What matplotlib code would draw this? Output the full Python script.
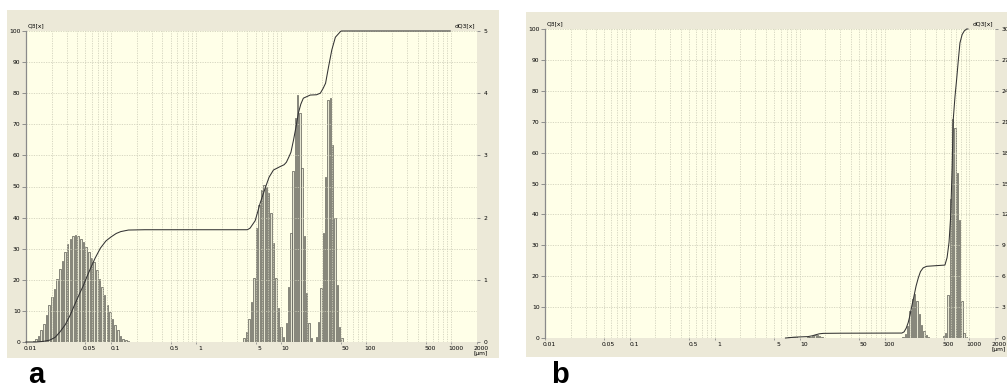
import matplotlib
matplotlib.use("Agg")
import matplotlib.pyplot as plt
import numpy as np
from matplotlib.patches import Rectangle
from matplotlib.ticker import FixedLocator, LogLocator, NullFormatter
from matplotlib.transforms import ScaledTranslation

# ---- data: panel a (dQ3 bars in right-axis units, Q3 curve in %) ----
a_sizes_1 = [0.0122, 0.0131, 0.01408, 0.01512, 0.01624, 0.01744, 0.01873, 0.02012, 0.02161,
             0.02321, 0.02493, 0.02678, 0.02876, 0.0309, 0.03318, 0.03564, 0.03828, 0.04112,
             0.04417, 0.04744, 0.05096, 0.05473, 0.05879, 0.06315, 0.06783, 0.07285, 0.07825,
             0.08405, 0.09028, 0.09697, 0.1042, 0.1119, 0.1202, 0.1291, 0.1386, 0.1489, 0.1599]
a_dq3_1 = [0.015, 0.05, 0.10, 0.185, 0.295, 0.43, 0.59, 0.725, 0.85, 1.02, 1.18, 1.30, 1.45,
           1.58, 1.65, 1.70, 1.715, 1.70, 1.65, 1.60, 1.525, 1.45, 1.35, 1.285, 1.15, 1.02,
           0.885, 0.75, 0.59, 0.48, 0.375, 0.27, 0.185, 0.10, 0.05, 0.025, 0.01]
a_sizes_2 = [3.67, 3.92, 4.19, 4.48, 4.79, 5.11, 5.46, 5.84, 6.24, 6.67, 7.12, 7.61, 8.13,
             8.69, 9.29, 9.92, 10.6]
a_dq3_2 = [0.065, 0.165, 0.37, 0.65, 1.03, 1.83, 2.2, 2.445, 2.525, 2.5, 2.39, 2.075, 1.59,
           1.03, 0.545, 0.245, 0.08]
a_sizes_3 = [11.5, 12.2, 13.0, 13.8, 14.7, 15.6, 16.6, 17.6, 18.7, 19.9, 21.2, 22.5]
a_dq3_3 = [0.30, 0.885, 1.75, 2.75, 3.6, 3.97, 3.68, 2.8, 1.7, 0.79, 0.30, 0.065]
a_sizes_4 = [25.8, 27.5, 29.3, 31.2, 33.2, 35.4, 37.7, 40.2, 42.8, 45.6, 48.6, 51.8]
a_dq3_4 = [0.08, 0.325, 0.87, 1.75, 2.65, 3.89, 3.925, 3.165, 2.0, 0.915, 0.245, 0.065]

a_curve_x = [0.01, 0.013, 0.016, 0.019, 0.022, 0.025, 0.029, 0.033, 0.038, 0.043, 0.047,
             0.052, 0.058, 0.065, 0.075, 0.087, 0.1, 0.115, 0.13, 0.16, 0.25, 4.0, 4.3, 4.94,
             5.66, 6.48, 7.2, 8.1, 9.7, 10.8, 11.5, 12.3, 13.0, 13.96, 15.0, 15.9, 17.0, 18.2,
             21.9, 26.0, 28.8, 31.0, 33.2, 36.0, 39.3, 43.3, 49.6, 51.0, 970]
a_curve_q3 = [0, 0, 0.2, 0.6, 1.5, 3.2, 5.6, 8.6, 12.5, 15.8, 18.0, 21.0, 24.0, 27.0, 30.2,
              32.5, 33.8, 34.9, 35.5, 36.0, 36.1, 36.1, 36.6, 39.0, 44.7, 49.5, 53.0, 55.3,
              56.4, 57.0, 57.8, 59.5, 61.0, 65.0, 69.5, 73.6, 76.5, 78.4, 79.4, 79.5, 80.0,
              81.5, 83.2, 88.5, 93.9, 98.0, 99.8, 100, 100]

# ---- data: panel b ----
b_sizes_1 = [7.0, 7.5, 8.0, 8.5, 9.1, 9.7]
b_dq3_1 = [0.03, 0.05, 0.08, 0.08, 0.05, 0.03]
b_sizes_2 = [12.5, 13.3, 14.2, 15.1, 16.1, 17.2, 18.3]
b_dq3_2 = [0.05, 0.12, 0.22, 0.28, 0.25, 0.15, 0.06]
b_sizes_3 = [165, 176, 187, 199, 212, 226, 241, 256, 273, 291, 310, 330]
b_dq3_3 = [0.1, 0.4, 1.2, 2.6, 3.8, 4.3, 3.6, 2.3, 1.3, 0.65, 0.3, 0.1]
b_sizes_4 = [494, 526, 560, 596, 634, 675, 718, 764, 813, 865, 920]
b_dq3_4 = [0.15, 0.5, 4.2, 13.5, 21.3, 20.4, 16.0, 11.5, 3.6, 0.5, 0.1]

b_curve_x = [6.8, 7.5, 8.5, 10, 12.5, 14, 15.5, 17, 19, 30, 160, 170, 180, 190, 200,
             210, 220, 235, 250, 265, 285, 313, 400, 514, 545, 575, 601, 625, 644, 675, 706,
             740, 773, 820, 870, 927, 960]
b_curve_q3 = [0, 0.1, 0.25, 0.35, 0.45, 0.7, 1.05, 1.35, 1.5, 1.55, 1.6, 2.0, 3.2, 5.0,
              7.5, 10.5, 13.0, 16.8, 19.5, 21.5, 22.7, 23.2, 23.4, 23.6, 26.0, 31.0, 39.4,
              55.0, 70.6, 78.0, 83.6, 90.0, 95.5, 98.2, 99.4, 100, 100]

x_ticks = [0.01, 0.05, 0.1, 0.5, 1, 5, 10, 50, 100, 500, 1000, 2000]
x_tick_labels = ["0.01", "0.05", "0.1", "0.5", "1", "5", "10", "50", "100", "500", "1000",
                 "2000\n[µm]"]
left_ticks = list(range(0, 101, 10))
a_right_ticks = [0, 1, 2, 3, 4, 5]
b_right_ticks = [0, 3, 6, 9, 12, 15, 18, 21, 24, 27, 30]

W, H = 1007, 388
BEIGE = "#ECE9D8"
PLOT_BG = "#FFFFE8"
GRID = "#CDCDB8"
TICK_FS = 4.3


def box(x0, y0, x1, y1):
    return [x0 / W, 1 - y1 / H, (x1 - x0) / W, (y1 - y0) / H]


def draw_bars(ax, sizes, heights):
    s = np.asarray(sizes, dtype=float)
    step = np.exp(np.mean(np.diff(np.log(s))))
    half = step ** 0.3
    left = s / half
    ax.bar(left, heights, width=s * half - left, align="edge",
           facecolor="#E6E6D2", edgecolor="#4A4A44", linewidth=0.45, zorder=2)


def draw_panel(fig, rect, groups, cx, cy, right_max, right_ticks):
    ax = fig.add_axes(box(*rect))
    ax2 = ax.twinx()
    ax.set_zorder(ax2.get_zorder() + 1)
    ax.patch.set_visible(False)
    ax2.patch.set_visible(True)
    ax2.patch.set_facecolor(PLOT_BG)

    ax.set_xscale("log")
    ax.set_xlim(0.01, 2000)
    ax.set_ylim(0, 100)
    ax2.set_ylim(0, right_max)

    for sizes, heights in groups:
        draw_bars(ax2, sizes, heights)

    ax.plot(cx, cy, color="#333333", linewidth=0.75, clip_on=False, zorder=3)

    ax.xaxis.set_major_locator(FixedLocator(x_ticks))
    ax.set_xticklabels(x_tick_labels, linespacing=0.9)
    ax.xaxis.set_minor_locator(LogLocator(base=10, subs=np.arange(2, 10)))
    ax.xaxis.set_minor_formatter(NullFormatter())
    ax.set_yticks(left_ticks)
    ax2.set_yticks(right_ticks)

    dash = (0, (1.6, 1.6))
    ax.grid(which="both", axis="x", color=GRID, linestyle=dash, linewidth=0.55)
    ax.grid(which="major", axis="y", color=GRID, linestyle=dash, linewidth=0.55)

    for a in (ax, ax2):
        for side in ("top", "right", "bottom", "left"):
            a.spines[side].set_visible(False)
    ax.spines["left"].set_visible(True)
    ax.spines["left"].set_color("#8A8A8A")
    ax.spines["left"].set_linewidth(0.9)

    ax.tick_params(axis="y", length=3, width=0.6, color="#808080", labelsize=TICK_FS, pad=1)
    ax.tick_params(axis="x", which="major", length=1.5, width=0.5, color="#808080",
                   labelsize=TICK_FS, pad=1.5)
    ax.tick_params(axis="x", which="minor", length=0)
    ax2.tick_params(axis="y", length=2, width=0.6, color="#808080", labelsize=TICK_FS, pad=2.5)

    offset = ScaledTranslation(3 / 72, 0, fig.dpi_scale_trans)
    for lab in ax.get_xticklabels():
        lab.set_transform(lab.get_transform() + offset)
        lab.set_verticalalignment("top")

    ax.text(0.004, 1.008, "Q3[x]", transform=ax.transAxes, fontsize=TICK_FS,
            ha="left", va="bottom")
    ax.text(0.996, 1.008, "dQ3[x]", transform=ax.transAxes, fontsize=TICK_FS,
            ha="right", va="bottom")
    return ax


fig = plt.figure(figsize=(W / 100, H / 100), dpi=100)
fig.patch.set_facecolor("white")

# beige window panels
fig.add_artist(Rectangle((7 / W, 1 - 358 / H), (499 - 7) / W, (358 - 10) / H,
                         transform=fig.transFigure, facecolor=BEIGE, edgecolor="none",
                         zorder=-10))
fig.add_artist(Rectangle((526 / W, 1 - 357 / H), (W - 526) / W, (357 - 12) / H,
                         transform=fig.transFigure, facecolor=BEIGE, edgecolor="none",
                         zorder=-10))

draw_panel(fig, (26, 31, 477, 342),
           [(a_sizes_1, a_dq3_1), (a_sizes_2, a_dq3_2), (a_sizes_3, a_dq3_3),
            (a_sizes_4, a_dq3_4)],
           a_curve_x, a_curve_q3, 5, a_right_ticks)
draw_panel(fig, (545, 29, 995, 338),
           [(b_sizes_1, b_dq3_1), (b_sizes_2, b_dq3_2), (b_sizes_3, b_dq3_3),
            (b_sizes_4, b_dq3_4)],
           b_curve_x, b_curve_q3, 30, b_right_ticks)

fig.text(28 / W, 1 - 383 / H, "a", fontsize=21, fontweight="bold",
         family="Liberation Sans", va="baseline", ha="left")
fig.text(551 / W, 1 - 383 / H, "b", fontsize=21, fontweight="bold",
         family="Liberation Sans", va="baseline", ha="left")

fig.savefig("out.png", dpi=100, facecolor="white")
